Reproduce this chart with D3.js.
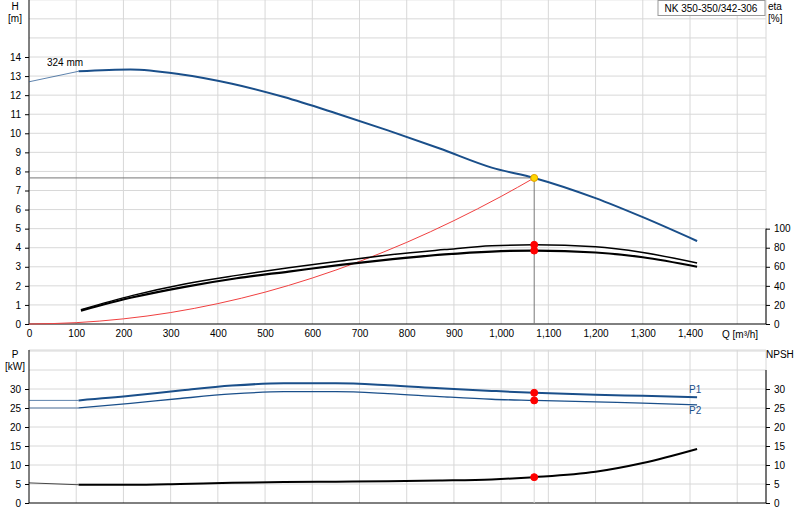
<!DOCTYPE html>
<html><head><meta charset="utf-8">
<script src="https://cdn.jsdelivr.net/npm/d3@7"></script>
<style>body{margin:0;background:#fff}text{font-family:"Liberation Sans",Arial,sans-serif;font-size:10px}</style>
</head><body><svg id="graph" width="800" height="520"></svg>
<script>
// Pump curve data
var qH = [0, 105, 215, 320, 430, 540, 650, 760, 870, 980, 1070, 1200, 1300, 1415];
var head = [12.7, 13.25, 13.35, 13.1, 12.6, 11.9, 11.05, 10.15, 9.2, 8.2, 7.66, 6.6, 5.6, 4.35];
var qEta = [110, 220, 330, 440, 550, 660, 770, 880, 980, 1070, 1200, 1300, 1415];
var eta1 = [15, 30, 42, 51, 59, 66, 73, 78, 82, 83, 81, 75, 64];
var eta2 = [14, 28, 39, 48, 55, 62, 68, 73, 76, 77, 75, 70, 60];
var qSys = [0, 100, 200, 300, 400, 500, 600, 700, 800, 900, 1000, 1070];
var hSys = [0, 0.07, 0.27, 0.6, 1.07, 1.67, 2.41, 3.28, 4.28, 5.42, 6.69, 7.66];
var qP = [0, 105, 215, 320, 430, 540, 650, 760, 870, 980, 1070, 1200, 1300, 1415];
var p1 = [27, 27, 28.2, 29.6, 30.9, 31.5, 31.5, 31, 30.2, 29.5, 29, 28.5, 28.2, 27.8];
var p2 = [25, 25, 26.2, 27.5, 28.7, 29.3, 29.3, 28.8, 28.0, 27.3, 27, 26.6, 26.3, 25.8];
var npsh = [5.3, 4.8, 4.8, 5.0, 5.3, 5.5, 5.6, 5.7, 5.9, 6.2, 6.8, 8.2, 10.5, 14.2];
var dutyQ = 1070, dutyH = 7.66, dutyEta = [83, 77], dutyP = [29, 27], dutyNpsh = 6.8;
var qTicks = [0, 100, 200, 300, 400, 500, 600, 700, 800, 900, 1000, 1100, 1200, 1300, 1400];

var svg = d3.select("#graph");
var left = 29, right = 766;
var x = d3.scaleLinear().domain([0, 1400]).range([left, 690]);
var xMax = x.invert(right);
var yH = d3.scaleLinear().domain([0, 14]).range([324, 57]);
var yEta = d3.scaleLinear().domain([0, 100]).range([324, yH(5)]);
var yP = d3.scaleLinear().domain([0, 30]).range([503, 389]);
var grid = "#d8d8d8", blue = "#1a4f8a";

function gridLines(y0, y1, ys) {
    var g = svg.append("g");
    d3.range(100, xMax, 100).forEach(function(q) {
        g.append("line").attr("x1", x(q)).attr("x2", x(q)).attr("y1", y0).attr("y2", y1).attr("stroke", grid);
    });
    ys.forEach(function(y) {
        g.append("line").attr("x1", left).attr("x2", right).attr("y1", y).attr("y2", y).attr("stroke", grid);
    });
}
gridLines(0, 324, d3.range(1, 18).map(yH));
gridLines(350, 503, d3.range(5, 45, 5).map(yP).filter(y => y >= 350));
svg.append("line").attr("x1", right).attr("x2", right).attr("y1", 350).attr("y2", 503).attr("stroke", grid);
svg.append("line").attr("x1", left).attr("x2", right).attr("y1", 350).attr("y2", 350).attr("stroke", grid);
svg.append("line").attr("x1", right).attr("x2", right).attr("y1", 0).attr("y2", 324).attr("stroke", grid);

// Axes
var xA = d3.axisBottom(x).tickValues(qTicks).tickSize(0).tickPadding(6).tickFormat(d3.format(","));
svg.append("g").attr("transform", "translate(0,324)").call(xA).call(g => g.select(".domain").remove());
svg.append("line").attr("x1", left).attr("x2", right).attr("y1", 324).attr("y2", 324).attr("stroke", "#000");
svg.append("g").attr("transform", "translate(" + left + ",0)")
    .call(d3.axisLeft(yH).tickValues(d3.range(0, 15)).tickSize(4).tickPadding(4))
    .call(g => g.select(".domain").attr("d", "M0,0V324"));
svg.append("g").attr("transform", "translate(" + right + ",0)")
    .call(d3.axisRight(yEta).tickValues(d3.range(0, 101, 20)).tickSize(4).tickPadding(4))
    .call(g => g.select(".domain").attr("d", "M0," + yEta(100) + "V324"));
svg.append("g").attr("transform", "translate(" + left + ",0)")
    .call(d3.axisLeft(yP).tickValues(d3.range(0, 31, 5)).tickSize(4).tickPadding(4))
    .call(g => g.select(".domain").attr("d", "M0,350V503"));
svg.append("g").attr("transform", "translate(" + right + ",0)")
    .call(d3.axisRight(yP).tickValues(d3.range(0, 31, 5)).tickSize(4).tickPadding(4))
    .call(g => g.select(".domain").attr("d", "M0,370V503"));
svg.append("line").attr("x1", left).attr("x2", right).attr("y1", 503).attr("y2", 503).attr("stroke", "#000");
svg.selectAll(".tick text").attr("font-size", 10).attr("fill", "#000");

function label(t, x0, y0, anchor) {
    svg.append("text").attr("x", x0).attr("y", y0).attr("text-anchor", anchor || "middle").text(t);
}
label("H", 15, 10); label("[m]", 15, 22);
label("eta", 768, 10, "start"); label("[%]", 768, 22, "start");
label("Q [m³/h]", 722, 338, "start");
label("P", 15, 358); label("[kW]", 15, 370);
label("NPSH", 766, 358, "start");
label("324 mm", 47, 66, "start");
svg.append("rect").attr("x", 658).attr("y", 0.5).attr("width", 107).attr("height", 15).attr("fill", "#fff").attr("stroke", "#999");
label("NK 350-350/342-306", 711, 12);

// Duty point guide lines
svg.append("line").attr("x1", left).attr("x2", x(dutyQ)).attr("y1", yH(dutyH)).attr("y2", yH(dutyH)).attr("stroke", "#777");
svg.append("line").attr("x1", x(dutyQ)).attr("x2", x(dutyQ)).attr("y1", yH(dutyH)).attr("y2", 324).attr("stroke", "#777");
svg.append("line").attr("x1", x(dutyQ)).attr("x2", x(dutyQ)).attr("y1", 350).attr("y2", 503).attr("stroke", grid);

function curve(qs, vs, ys, color, w, thinFirst) {
    var pts = qs.map((q, i) => [x(q), ys(vs[i])]);
    var line = d3.line().curve(d3.curveMonotoneX);
    if (thinFirst) {
        svg.append("path").attr("d", line(pts.slice(0, 2))).attr("fill", "none").attr("stroke", color).attr("stroke-width", 1).attr("opacity", 0.7);
        pts = pts.slice(1);
    }
    svg.append("path").attr("d", line(pts)).attr("fill", "none").attr("stroke", color).attr("stroke-width", w);
}
curve(qSys, hSys, yH, "#f04040", 1, false);
curve(qH, head, yH, blue, 2, true);
curve(qEta, eta1, yEta, "#000", 1.5, false);
curve(qEta, eta2, yEta, "#000", 2.2, false);
curve(qP, p1, yP, blue, 2, true);
curve(qP, p2, yP, blue, 1.3, true);
curve(qP, npsh, yP, "#000", 2, true);

function dot(yv, c) {
    svg.append("circle").attr("cx", x(dutyQ)).attr("cy", yv).attr("r", 3.5).attr("fill", c).attr("stroke", c == "red" ? "red" : "#e0a000");
}
dot(yH(dutyH), "#ffd700");
dutyEta.forEach(e => dot(yEta(e), "red"));
dutyP.forEach(p => dot(yP(p), "red"));
dot(yP(dutyNpsh), "red");
svg.append("text").attr("x", 689).attr("y", yP(p1[13]) - 4).attr("fill", blue).text("P1");
svg.append("text").attr("x", 689).attr("y", yP(p2[13]) + 9).attr("fill", blue).text("P2");
</script></body></html>
